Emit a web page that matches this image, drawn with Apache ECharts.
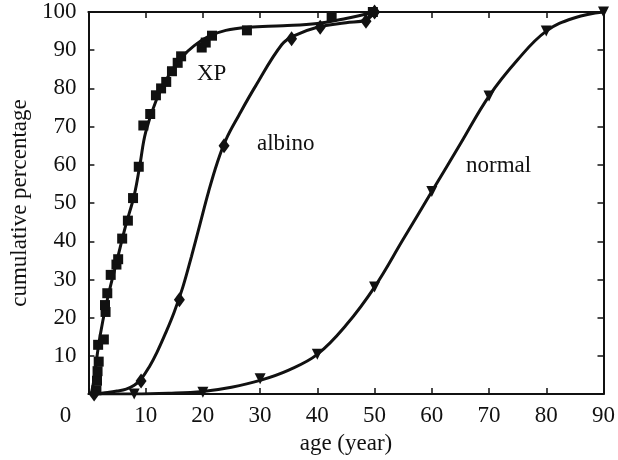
<!DOCTYPE html>
<html>
<head>
<meta charset="utf-8">
<script src="https://cdn.jsdelivr.net/npm/echarts@6/dist/echarts.min.js"></script>
<style>
html,body{margin:0;padding:0;background:#fff;}
#chart{width:618px;height:460px;}
</style>
</head>
<body>
<div id="chart"></div>
<script>
// tick values
var xTicks = [0,10,20,30,40,50,60,70,80,90];
var yTicks = [0,10,20,30,40,50,60,70,80,90,100];

// fitted curves: [age, cumulative %]
var xpCurve = [[0.5,0],[1,4],[1.7,12],[2.5,19],[3.5,26],[5,35],[6.5,44],[8,52],[9,60],[10,68.5],[12,77.5],[14,83.3],[16.5,88.4],[18.5,91.2],[21,93.6],[24,95.2],[28,96],[34,96.4],[40,97],[45,98.3],[50,100]];
var albinoCurve = [[1,0],[2.6,0.3],[5,0.8],[6.6,1.3],[8,2.3],[9.2,3.9],[10.7,7.3],[12,11],[13.5,16],[15,21.5],[16.5,28],[18,36],[19.5,44.5],[21,53],[22.5,60.5],[24,66.5],[26.3,73],[29.2,80.6],[33.8,91.5],[36,93.8],[40,96],[45,97.2],[48.5,97.9],[50,100]];
var normalCurve = [[1,0],[8,0],[14,0.2],[20,0.7],[25,1.8],[30,3.6],[35,6.3],[40,10.4],[45,18],[50,28],[55,40.5],[60,53],[65,65.5],[70,78],[75,87.5],[80,95],[85,98.5],[90,100]];

// observed points
var xpPoints = [[1.4,1],[1.5,3.5],[1.6,6],[1.8,8.5],[1.7,12.9],[2.7,14.3],[3.0,21.5],[2.9,23.3],[3.3,26.4],[3.9,31.2],[4.9,33.9],[5.2,35.3],[5.9,40.7],[6.9,45.4],[7.8,51.3],[8.8,59.5],[9.6,70.3],[10.8,73.3],[11.8,78.2],[12.7,80],[13.6,81.7],[14.6,84.5],[15.6,86.7],[16.2,88.4],[19.8,90.7],[20.5,92],[21.6,93.8],[27.7,95.2],[42.5,98.8],[49.7,100]];
var albinoPoints = [[1,0],[9.2,3.4],[15.9,24.7],[23.7,65],[35.5,93],[40.5,96],[48.5,97.6],[50,100]];
var normalPoints = [[8,0],[20,0.5],[30,4],[40,10.4],[50,28],[60,53],[70,78],[80,95],[90,100]];

var groupLabels = ['XP','albino','normal'];
var xName = 'age (year)';
var yName = 'cumulative percentage';

var FONT = '"Liberation Serif","DejaVu Serif",serif';
var FS = 23;
var INK = '#111111';

var chart = echarts.init(document.getElementById('chart'));

function axisCommon(){
  return {
    axisLine:{show:true,onZero:false,lineStyle:{color:INK,width:2}},
    axisTick:{show:true,inside:true,length:6,lineStyle:{color:INK,width:1.5}},
    splitLine:{show:false}
  };
}
function curve(data){
  return {type:'line',data:data,smooth:0.4,showSymbol:false,symbol:'none',
    lineStyle:{color:INK,width:3},z:2,silent:true};
}
function marks(data,symbol,size,rot){
  return {type:'scatter',data:data,symbol:symbol,symbolSize:size,symbolRotate:rot||0,
    itemStyle:{color:INK,opacity:1},clip:false,z:3,silent:true};
}

var option = {
  animation:false,
  backgroundColor:'#fff',
  grid:{left:85,right:13.5,top:12,bottom:62},
  xAxis:[
    Object.assign(axisCommon(),{type:'value',min:xTicks[0],max:xTicks[xTicks.length-1],interval:10,position:'bottom',
      name:xName,nameLocation:'middle',nameGap:30,
      nameTextStyle:{fontFamily:FONT,fontSize:FS,color:INK},
      axisLabel:{fontFamily:FONT,fontSize:FS,color:INK,margin:10,
        formatter:function(v){return v===0?'{z|0}':String(v);},
        rich:{z:{fontFamily:FONT,fontSize:FS,color:INK,padding:[0,46,0,0]}}}}),
    Object.assign(axisCommon(),{type:'value',min:xTicks[0],max:xTicks[xTicks.length-1],interval:10,position:'top',
      axisLabel:{show:false}})
  ],
  yAxis:[
    Object.assign(axisCommon(),{type:'value',min:yTicks[0],max:yTicks[yTicks.length-1],interval:10,position:'left',
      name:yName,nameLocation:'middle',nameGap:51,
      nameTextStyle:{fontFamily:FONT,fontSize:FS,color:INK},
      axisLabel:{fontFamily:FONT,fontSize:FS,color:INK,margin:12,
        formatter:function(v){return v===0?'':String(v);}}}),
    Object.assign(axisCommon(),{type:'value',min:yTicks[0],max:yTicks[yTicks.length-1],interval:10,position:'right',
      axisLabel:{show:false}})
  ],
  series:[
    curve(xpCurve), curve(albinoCurve), curve(normalCurve),
    marks(xpPoints,'rect',10),
    marks(albinoPoints,'diamond',[11,15]),
    marks(normalPoints,'triangle',[11,11],180)
  ],
  graphic:[
    {type:'text',left:197,top:62,style:{text:groupLabels[0],font:FS+'px '+FONT,fill:INK}},
    {type:'text',left:257,top:132,style:{text:groupLabels[1],font:FS+'px '+FONT,fill:INK}},
    {type:'text',left:466,top:154,style:{text:groupLabels[2],font:FS+'px '+FONT,fill:INK}}
  ]
};
chart.setOption(option);
</script>
</body>
</html>
